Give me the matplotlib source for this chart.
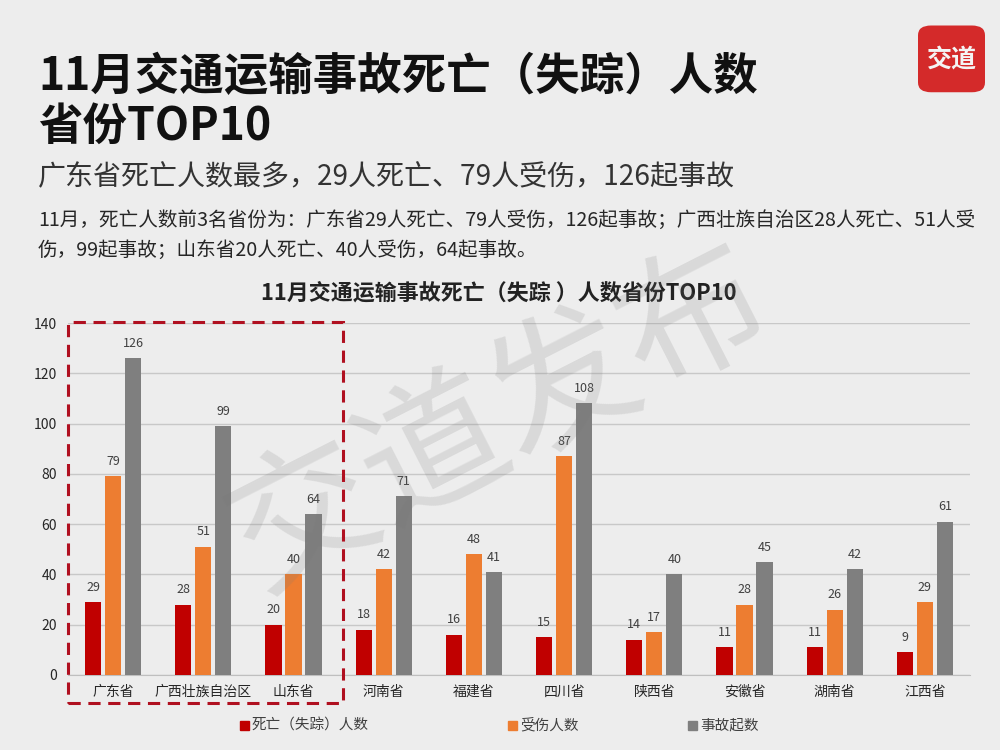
import matplotlib.pyplot as plt
import matplotlib.patches as mpatches
import numpy as np

plt.rcParams['font.family'] = ['Noto Sans CJK SC', 'DejaVu Sans']

# data
provinces = ['广东省', '广西壮族自治区', '山东省', '河南省', '福建省',
             '四川省', '陕西省', '安徽省', '湖南省', '江西省']
deaths = [29, 28, 20, 18, 16, 15, 14, 11, 11, 9]
injured = [79, 51, 40, 42, 48, 87, 17, 28, 26, 29]
accidents = [126, 99, 64, 71, 41, 108, 40, 45, 42, 61]
series_names = ['死亡（失踪）人数', '受伤人数', '事故起数']
colors = ['#C00000', '#ED7D31', '#7F7F7F']

fig = plt.figure(figsize=(10, 7.5), dpi=100)
fig.patch.set_facecolor('#EDEDED')

# titles
fig.text(0.038, 0.898, '11月交通运输事故死亡（失踪）人数', fontsize=32, fontweight='bold',
         color='#111111', va='center')
fig.text(0.038, 0.831, '省份TOP10', fontsize=32, fontweight='bold',
         color='#111111', va='center')
fig.text(0.038, 0.763, '广东省死亡人数最多，29人死亡、79人受伤，126起事故',
         fontsize=20.2, color='#333333', va='center')
fig.text(0.038, 0.706, '11月，死亡人数前3名省份为：广东省29人死亡、79人受伤，126起事故；广西壮族自治区28人死亡、51人受',
         fontsize=14.1, color='#262626', va='center')
fig.text(0.038, 0.666, '伤，99起事故；山东省20人死亡、40人受伤，64起事故。',
         fontsize=14.1, color='#262626', va='center')

# logo
logo = mpatches.FancyBboxPatch((0.918, 0.877), 0.067, 0.089,
                               boxstyle='round,pad=0,rounding_size=0.013',
                               transform=fig.transFigure, facecolor='#D42A2A',
                               edgecolor='none')
fig.patches.append(logo)
fig.text(0.9515, 0.92, '交道', fontsize=18, fontweight='bold', color='#F4F4F4',
         ha='center', va='center')

# watermark
fig.text(0.5, 0.44, '交道发布', fontsize=105, color='#777777', alpha=0.17,
         rotation=27, ha='center', va='center')

ax = fig.add_axes([0.068, 0.1, 0.902, 0.4693])
ax.set_facecolor('none')

x = np.arange(len(provinces))
w = 0.18
off = 0.222
for i, (vals, c) in enumerate(zip([deaths, injured, accidents], colors)):
    bars = ax.bar(x + (i - 1) * off, vals, w, color=c, zorder=3)
    ax.bar_label(bars, padding=6, fontsize=9, color='#404040')

ax.set_xlim(-0.5, len(provinces) - 0.5)
ax.set_ylim(0, 140)
ax.set_yticks(range(0, 141, 20))
ax.set_xticks(x)
ax.set_xticklabels(provinces, fontsize=10, color='#262626')
ax.tick_params(axis='y', labelsize=10, labelcolor='#262626', length=0, pad=8)
ax.tick_params(axis='x', length=0, pad=7)
ax.grid(axis='y', color='#C8C8C8', linewidth=1, zorder=0)
for s in ['top', 'right', 'left']:
    ax.spines[s].set_visible(False)
ax.spines['bottom'].set_color('#BFBFBF')

ax.set_title('11月交通运输事故死亡（失踪 ）人数省份TOP10', fontsize=15.8,
             fontweight='bold', color='#222222', pad=17, x=0.478)

# dashed highlight box around top 3
box = mpatches.Rectangle((0.068, 0.063), 0.275, 0.508, transform=fig.transFigure,
                         fill=False, edgecolor='#B01020', linewidth=2.2,
                         linestyle=(0, (4, 2.5)), zorder=5)
fig.patches.append(box)

# legend
leg_x = [0.240, 0.508, 0.688]
for lx, name, c in zip(leg_x, series_names, colors):
    fig.patches.append(mpatches.Rectangle((lx, 0.027), 0.009, 0.012,
                                          transform=fig.transFigure, color=c))
    fig.text(lx + 0.012, 0.033, name, fontsize=10.5, color='#404040', va='center')

fig.savefig('out.png', dpi=100, facecolor=fig.get_facecolor())
